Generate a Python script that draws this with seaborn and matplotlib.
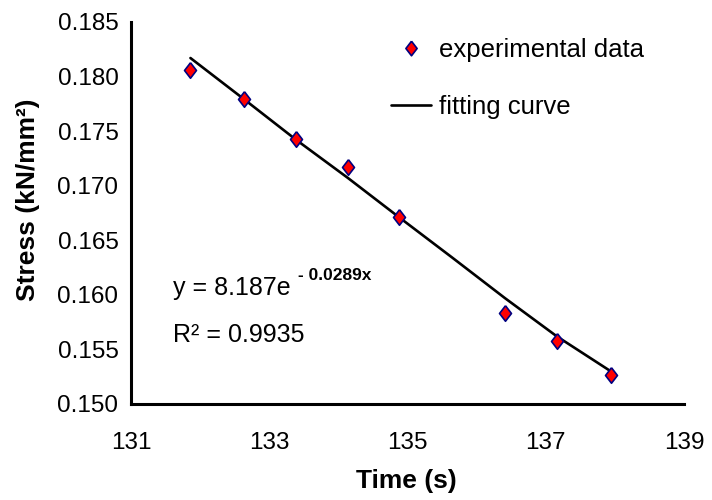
import matplotlib
matplotlib.use("Agg")
import matplotlib.pyplot as plt
import seaborn as sns
import pandas as pd
from matplotlib.lines import Line2D

# Data
time_s = [131.86, 132.64, 133.39, 134.14, 134.88, 136.41, 137.16, 137.94]
stress = [0.1806, 0.1779, 0.1743, 0.1717, 0.1671, 0.1583, 0.1558, 0.1527]

fit_time = [131.86, 132.64, 133.39, 134.14, 134.88, 135.65, 136.41, 137.16, 137.94]
fit_stress = [0.1817, 0.1779, 0.1742, 0.1707, 0.1671, 0.1634, 0.1597, 0.1562, 0.1530]

x_ticks = [131, 133, 135, 137, 139]
y_ticks = [0.150, 0.155, 0.160, 0.165, 0.170, 0.175, 0.180, 0.185]

equation_main = "y = 8.187e"
equation_exp = "- 0.0289x"
r2_text = "R\u00b2 = 0.9935"

sns.set_style("white")
plt.rcParams['font.family'] = ['Liberation Sans', 'DejaVu Sans']
plt.rcParams['text.color'] = 'black'
plt.rcParams['axes.labelcolor'] = 'black'
plt.rcParams['xtick.color'] = 'black'
plt.rcParams['ytick.color'] = 'black'

W, H = 712, 500
fig = plt.figure(figsize=(W / 100, H / 100), dpi=100)
ax = fig.add_axes([131 / W, 1 - 404 / H, (684 - 131) / W, (404 - 22) / H])

df_pts = pd.DataFrame({"t": time_s, "s": stress})
df_fit = pd.DataFrame({"t": fit_time, "s": fit_stress})

sns.lineplot(data=df_fit, x="t", y="s", ax=ax, color="black", linewidth=1.9,
             sort=False, estimator=None, zorder=2)

diamond = [(0, 1), (0.77, 0), (0, -1), (-0.77, 0), (0, 1)]
sns.scatterplot(data=df_pts, x="t", y="s", ax=ax, marker=diamond, s=125,
                color="#ff0000", edgecolor="#000080", linewidth=1.2, zorder=3)

ax.set_xlim(131, 139)
ax.set_ylim(0.150, 0.185)
ax.set_xticks(x_ticks)
ax.set_yticks(y_ticks)
ax.set_xticklabels([str(v) for v in x_ticks])
ax.set_yticklabels([f"{v:.3f}" for v in y_ticks])

for side in ["top", "right"]:
    ax.spines[side].set_visible(False)
for side in ["left", "bottom"]:
    ax.spines[side].set_linewidth(2.2)
    ax.spines[side].set_color("black")

ax.tick_params(axis="both", direction="in", length=6, width=0.8, color="#555555",
               labelsize=17.5, labelcolor="black")
ax.tick_params(axis="y", pad=9)
ax.tick_params(axis="x", pad=20)

ax.set_xlabel("")
ax.set_ylabel("")
fig.text(406 / W, 1 - 481 / H, "Time (s)", fontsize=19, fontweight="bold",
         ha="center", va="center", color="black")
fig.text(28 / W, 1 - 200 / H, "Stress (kN/mm\u00b2)", fontsize=19, fontweight="bold",
         ha="center", va="center", rotation=90, color="black")

fig.text(173 / W, 1 - 288 / H, equation_main, fontsize=18, ha="left", va="center",
         color="black")
fig.text(298 / W, 1 - 276 / H, equation_exp, fontsize=12.5, fontweight="bold",
         ha="left", va="center", color="black")
fig.text(173 / W, 1 - 335 / H, r2_text, fontsize=18, ha="left", va="center",
         color="black")

handles = [
    Line2D([], [], linestyle="none", marker=diamond, markersize=10.5,
           markerfacecolor="#ff0000", markeredgecolor="#000080", markeredgewidth=1.2),
    Line2D([], [], color="black", linewidth=1.9),
]
leg = ax.legend(handles, ["experimental data", "fitting curve"], frameon=False,
                loc="upper left", bbox_to_anchor=(391 / W, 1 - 38 / H),
                bbox_transform=fig.transFigure, borderaxespad=0, borderpad=0,
                fontsize=18.5, handlelength=1.55, handletextpad=0.3, labelspacing=1.3)
for t in leg.get_texts():
    t.set_color("black")

fig.savefig("out.png", dpi=100)
